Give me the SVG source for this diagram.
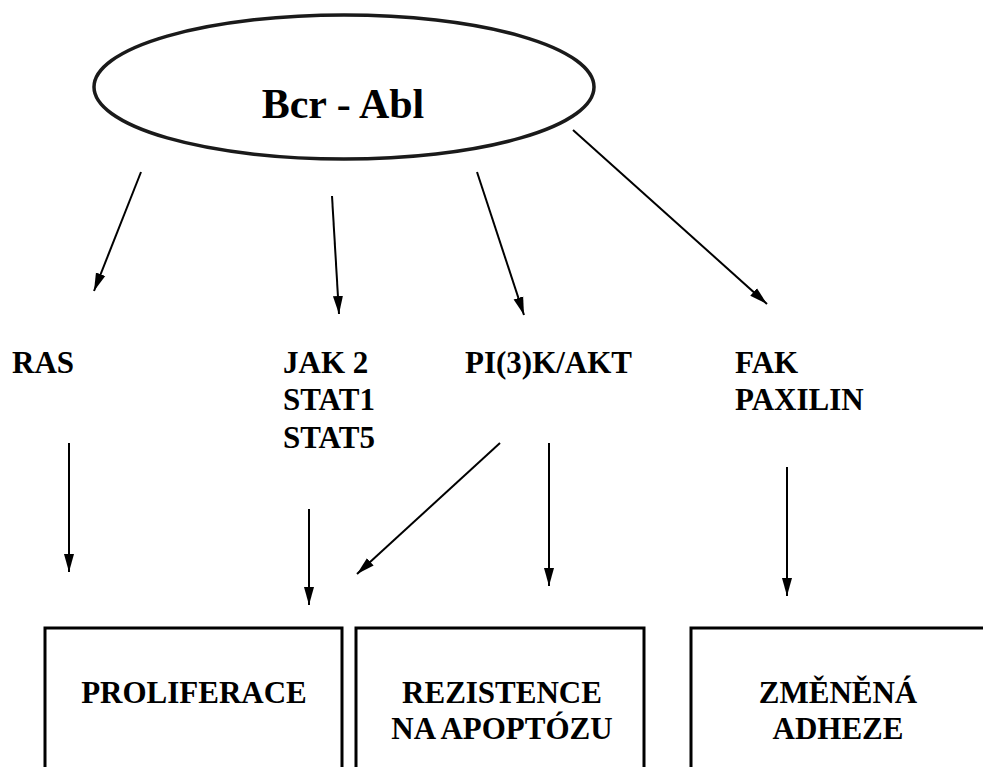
<svg xmlns="http://www.w3.org/2000/svg" width="983" height="767" viewBox="0 0 983 767">
<style>
.t{font-family:"Liberation Serif","Times New Roman",serif;font-weight:bold;font-size:31px;fill:#000}
.c{stroke:#000;stroke-width:2;fill:none}
.b{stroke:#000;stroke-width:3;fill:none}
</style>
<defs>
<marker id="ah" markerUnits="userSpaceOnUse" markerWidth="20" markerHeight="12" refX="18" refY="6" orient="auto">
<path d="M0,1 L18,6 L0,11 Z" fill="#000"/>
</marker>
</defs>
<rect width="983" height="767" fill="#fff"/>
<g id="bcr-abl">
<ellipse cx="344" cy="87" rx="250" ry="72" fill="#fff" stroke="#1a1a1a" stroke-width="3.5"/>
<text class="t" x="343" y="118" text-anchor="middle" style="font-size:42px">Bcr - Abl</text>
</g>
<g id="ras"><text class="t" x="12" y="373">RAS</text></g>
<g id="jak"><text class="t" x="283" y="373">JAK 2</text><text class="t" x="283" y="410">STAT1</text><text class="t" x="283" y="448">STAT5</text></g>
<g id="pi3k"><text class="t" x="465" y="373">PI(3)K/AKT</text></g>
<g id="fak"><text class="t" x="735" y="373">FAK</text><text class="t" x="735" y="410">PAXILIN</text></g>
<g id="proliferace">
<path class="b" d="M45,767 V628 H342 V767"/>
<text class="t" x="194" y="703" text-anchor="middle">PROLIFERACE</text>
</g>
<g id="rezistence">
<path class="b" d="M356,767 V628 H644 V767"/>
<text class="t" x="502" y="703" text-anchor="middle">REZISTENCE</text>
<text class="t" x="502" y="739" text-anchor="middle">NA APOPTÓZU</text>
</g>
<g id="adheze">
<path class="b" d="M691,767 V628 H985"/>
<text class="t" x="838" y="703" text-anchor="middle">ZMĚNĚNÁ</text>
<text class="t" x="838" y="739" text-anchor="middle">ADHEZE</text>
</g>
<g id="connectors">
<line class="c" x1="141" y1="172" x2="94" y2="291" marker-end="url(#ah)"/>
<line class="c" x1="332" y1="196" x2="339" y2="314" marker-end="url(#ah)"/>
<line class="c" x1="477" y1="172" x2="524" y2="315" marker-end="url(#ah)"/>
<line class="c" x1="573" y1="130" x2="767" y2="304" marker-end="url(#ah)"/>
<line class="c" x1="69" y1="443" x2="69" y2="572" marker-end="url(#ah)"/>
<line class="c" x1="309" y1="509" x2="309" y2="605" marker-end="url(#ah)"/>
<line class="c" x1="500" y1="443" x2="357" y2="574" marker-end="url(#ah)"/>
<line class="c" x1="549" y1="443" x2="549" y2="586" marker-end="url(#ah)"/>
<line class="c" x1="787" y1="467" x2="787" y2="596" marker-end="url(#ah)"/>
</g>
</svg>
